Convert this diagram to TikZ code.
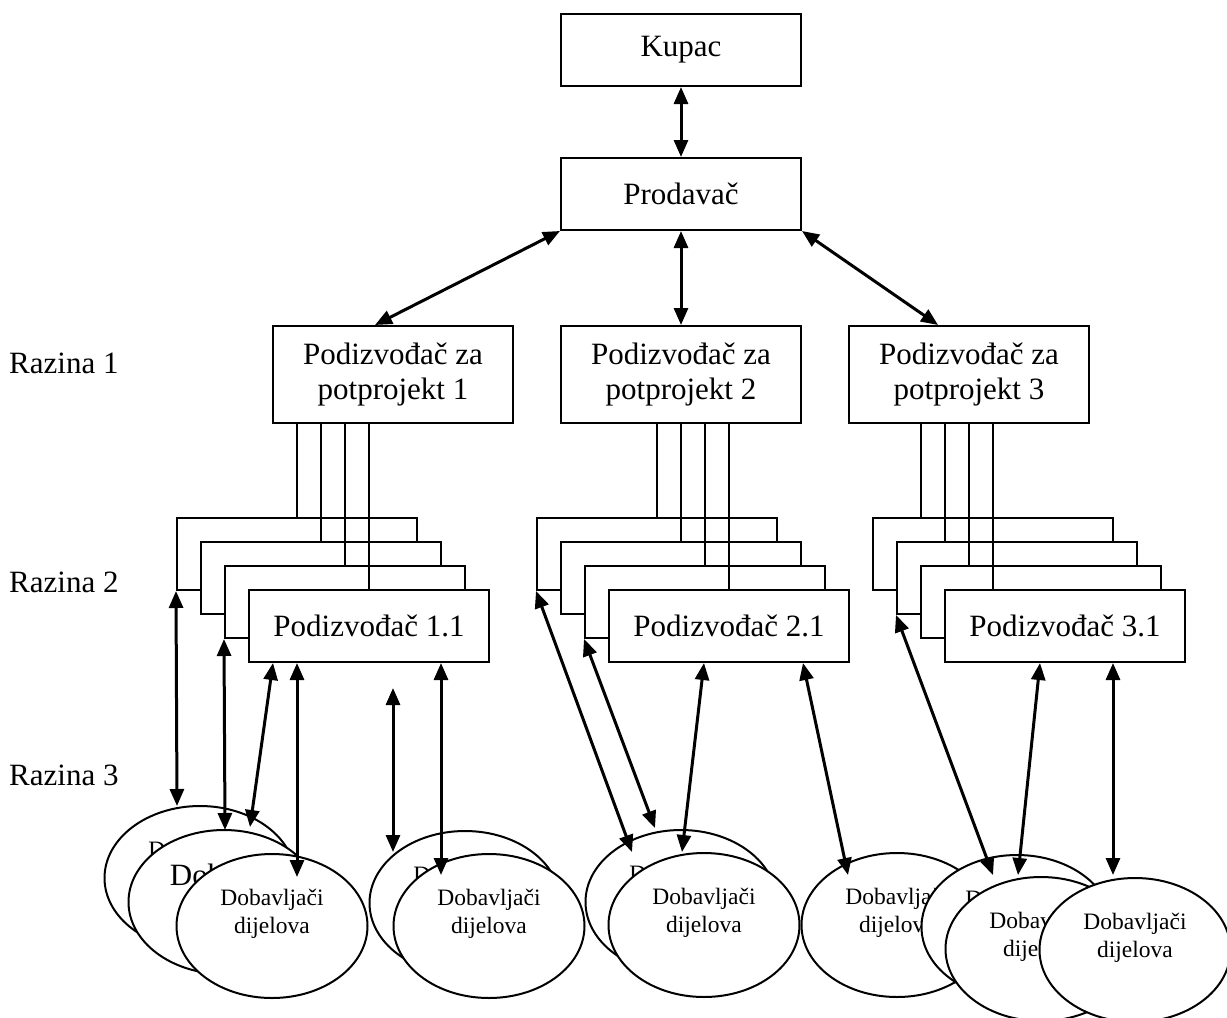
\documentclass[tikz,border=0pt]{standalone}
\usepackage{fontspec}
\setmainfont{Liberation Serif}
\usetikzlibrary{shapes.geometric,arrows.meta,calc}
\newcommand{\boxfont}{\fontsize{31}{35}\selectfont}
\newcommand{\supfont}{\fontsize{23.5}{27.5}\selectfont}
\tikzset{
  box/.style={draw,line width=2pt,fill=white,minimum width=240pt,minimum height=72pt,inner sep=0pt,align=center,font=\boxfont},
  topbox/.style={box,minimum height=97pt},
  supplier/.style={ellipse,draw,line width=2pt,fill=white,minimum width=191pt,minimum height=144pt,inner sep=0pt,
    label={[font=\supfont,align=center,yshift=12pt,#1]center:Dobavljači\\dijelova}},
  supplier/.default={},
  link/.style={line width=3pt,>={Triangle[length=17pt,width=14pt]},<->},
  feed/.style={line width=2pt},
  level/.style={anchor=base west,inner sep=0pt,font=\boxfont}
}
\begin{document}
\begin{tikzpicture}[x=1pt,y=-1pt]
\path[use as bounding box,fill=white] (0,0) rectangle (1227,1018);
%%% buyer, seller and the three subprojects
\node[box] (kupac) at (681,50) {Kupac};
\node[box] (prodavac) at (681,194) {Prodavač};
\node[topbox] (p1) at (393,374.5) {Podizvođač za\\potprojekt 1};
\node[topbox] (p2) at (681,374.5) {Podizvođač za\\potprojekt 2};
\node[topbox] (p3) at (969,374.5) {Podizvođač za\\potprojekt 3};
\draw[link] (kupac) -- (prodavac);
\draw[link] (prodavac.south west) -- (p1.110);
\draw[link] (prodavac) -- (p2);
\draw[link] (prodavac.south east) -- (p3.122);
%%% level labels
\node[level] (r1) at (9,373) {Razina 1};
\node[level] (r2) at (9,592) {Razina 2};
\node[level] (r3) at (9,785) {Razina 3};
%%% level 2: four stacked boxes under each subproject
\foreach \g/\x in {1/297,2/657,3/993}{
  \node[box] (s\g-a) at (\x,554) {};
  \node[box] (s\g-b) at (\x+24,578) {};
  \node[box] (s\g-c) at (\x+48,602) {};
  \node[box] (s\g-d) at (\x+72,626) {Podizvođač \g.1};
}
\foreach \g/\dx in {1/0pt,2/0pt,3/-72pt}
  \foreach \r in {a,b,c,d}
    \draw[feed] ([xshift=\dx]s\g-\r.north |- p\g.south) -- ([xshift=\dx]s\g-\r.north);
%%% level 3: suppliers
\node[supplier] (d1a) at (200,878) {};
\node[supplier={font=\boxfont,xshift=14pt,yshift=-6pt}] (d1b) at (224,902) {};
\node[supplier] (d1c) at (272,926) {};
\node[supplier] (d1d) at (465,903) {};
\node[supplier] (d1e) at (489,926) {};
\node[supplier] (d2a) at (681,902) {};
\node[supplier] (d2b) at (704,925) {};
\node[supplier] (d2c) at (897,925) {};
\node[supplier] (d3a) at (1017,927) {};
\node[supplier] (d3b) at (1041,949) {};
\node[supplier] (d3c) at (1135,950) {};
%%% links between level 2 and level 3
\draw[link] (s1-a.south west) -- ($(d1a)+(-23,-72)$);
\draw[link] (s1-c.south west) -- ($(d1b)+(1,-72)$);
\draw[link] ([xshift=-96pt]s1-d.south) -- ($(d1b)+(26,-75)$);
\draw[link] ([xshift=-72pt]s1-d.south) -- ($(d1c)+(25,-49)$);
\coordinate (f1) at (393,688);
\draw[link] (f1) -- ($(d1d)+(-72,-51)$);
\draw[link] ([xshift=72pt]s1-d.south) -- ($(d1e)+(-48,-51)$);
\draw[link] (s2-a.south west) -- ($(d2a)+(-49,-50)$);
\draw[link] (s2-c.south west) -- ($(d2a)+(-26,-74)$);
\draw[link] ([xshift=-25pt]s2-d.south) -- ($(d2b)+(-22,-73)$);
\draw[link] ([xshift=74pt]s2-d.south) -- ($(d2c)+(-49,-50)$);
\draw[link] (s3-b.south west) -- ($(d3a)+(-24,-52)$);
\draw[link] ([xshift=-25pt]s3-d.south) -- ($(d3b)+(-23,-74)$);
\draw[link] ([xshift=48pt]s3-d.south) -- ($(d3c)+(-22,-75)$);
\end{tikzpicture}
\end{document}
